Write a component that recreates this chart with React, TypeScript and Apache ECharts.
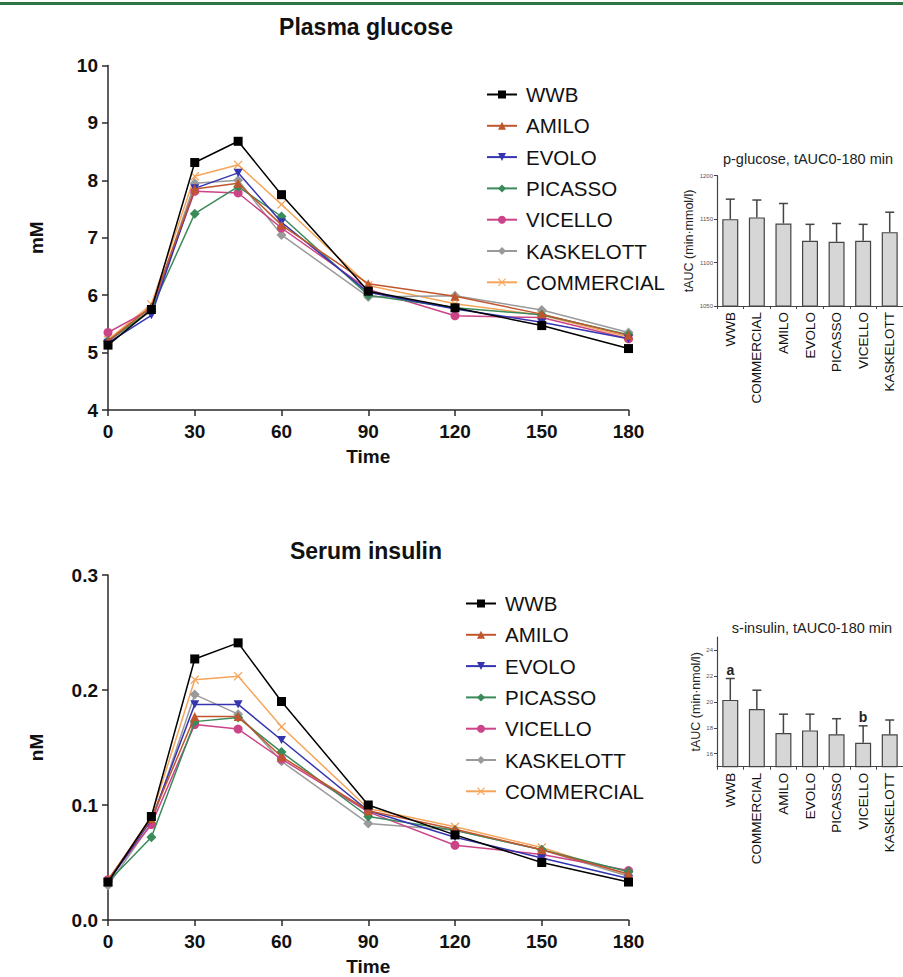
import React, { useEffect, useRef } from "react";
import * as echarts from "echarts";

const FONT = "Liberation Sans, Arial, Helvetica, sans-serif";

const times = [0, 15, 30, 45, 60, 90, 120, 150, 180];
const groups = ["WWB", "AMILO", "EVOLO", "PICASSO", "VICELLO", "KASKELOTT", "COMMERCIAL"];

// Plasma glucose (mM)
const glucoseWWB = [5.13, 5.75, 8.31, 8.68, 7.75, 6.07, 5.78, 5.47, 5.07];
const glucoseAMILO = [5.2, 5.8, 7.85, 7.95, 7.22, 6.2, 5.98, 5.67, 5.3];
const glucoseEVOLO = [5.17, 5.65, 7.86, 8.13, 7.27, 6.05, 5.76, 5.53, 5.24];
const glucosePICASSO = [5.2, 5.75, 7.42, 7.89, 7.37, 6.0, 5.78, 5.66, 5.31];
const glucoseVICELLO = [5.35, 5.76, 7.81, 7.78, 7.17, 6.1, 5.64, 5.61, 5.24];
const glucoseKASKELOTT = [5.2, 5.72, 7.95, 8.0, 7.05, 5.97, 5.99, 5.74, 5.35];
const glucoseCOMMERCIAL = [5.22, 5.84, 8.07, 8.27, 7.58, 6.17, 5.85, 5.65, 5.27];

// Serum insulin (nM)
const insulinWWB = [0.033, 0.09, 0.227, 0.241, 0.19, 0.1, 0.074, 0.05, 0.033];
const insulinAMILO = [0.035, 0.088, 0.177, 0.177, 0.142, 0.095, 0.079, 0.061, 0.04];
const insulinEVOLO = [0.033, 0.087, 0.1875, 0.1875, 0.1565, 0.095, 0.072, 0.054, 0.036];
const insulinPICASSO = [0.033, 0.072, 0.1725, 0.176, 0.146, 0.09, 0.078, 0.061, 0.042];
const insulinVICELLO = [0.035, 0.083, 0.17, 0.166, 0.14, 0.094, 0.065, 0.057, 0.043];
const insulinKASKELOTT = [0.03, 0.084, 0.196, 0.179, 0.138, 0.084, 0.078, 0.061, 0.038];
const insulinCOMMERCIAL = [0.034, 0.09, 0.209, 0.212, 0.168, 0.097, 0.081, 0.063, 0.039];

// tAUC bar charts
const barCategories = ["WWB", "COMMERCIAL", "AMILO", "EVOLO", "PICASSO", "VICELLO", "KASKELOTT"];
const glucoseAUC = [1150, 1152, 1145, 1125, 1124, 1125, 1135];
const glucoseAUCUpper = [1173, 1172, 1168, 1144, 1145, 1144, 1158];
const insulinAUC = [20.15, 19.45, 17.6, 17.8, 17.5, 16.85, 17.5];
const insulinAUCUpper = [21.8, 20.9, 19.05, 19.05, 18.7, 18.15, 18.6];
const insulinAnnotations = ["a", "", "", "", "", "b", ""];
const glucoseAnnotations = ["", "", "", "", "", "", ""];

const insulinTicks = [16, 18, 20, 22, 24];

const glucoseSeries = [glucoseWWB, glucoseAMILO, glucoseEVOLO, glucosePICASSO, glucoseVICELLO, glucoseKASKELOTT, glucoseCOMMERCIAL];
const insulinSeries = [insulinWWB, insulinAMILO, insulinEVOLO, insulinPICASSO, insulinVICELLO, insulinKASKELOTT, insulinCOMMERCIAL];

const styles: Record<string, { color: string; symbol: string; size: number }> = {
  WWB: { color: "#000000", symbol: "rect", size: 9 },
  AMILO: { color: "#c0562e", symbol: "triangle", size: 9 },
  EVOLO: { color: "#3535b0", symbol: "path://M0,0L10,0L5,9Z", size: 9 },
  PICASSO: { color: "#3a8a5a", symbol: "diamond", size: 10 },
  VICELLO: { color: "#cc4488", symbol: "circle", size: 9 },
  KASKELOTT: { color: "#9a9a9a", symbol: "diamond", size: 10 },
  COMMERCIAL: {
    color: "#f5a55a",
    symbol: "path://M0,1L1,0L5,4L9,0L10,1L6,5L10,9L9,10L5,6L1,10L0,9L4,5Z",
    size: 9,
  },
};

const axisColor = "#2a2a2a";

function lineXAxis(gridIndex: number) {
  return {
    gridIndex,
    type: "value",
    min: 0,
    max: 180,
    interval: 30,
    axisLine: { show: true, onZero: false, lineStyle: { color: axisColor, width: 1.5 } },
    axisTick: { show: true, length: 6, lineStyle: { color: axisColor, width: 1.5 } },
    axisLabel: { fontSize: 19, fontWeight: "bold", color: "#111", margin: 12, fontFamily: FONT },
    splitLine: { show: false },
    name: "Time",
    nameLocation: "middle",
    nameGap: 37,
    nameTextStyle: { fontSize: 19, fontWeight: "bold", color: "#111", fontFamily: FONT },
  };
}

function lineYAxis(gridIndex: number, min: number, max: number, interval: number, name: string, digits: number) {
  return {
    gridIndex,
    type: "value",
    min,
    max,
    interval,
    axisLine: { show: true, onZero: false, lineStyle: { color: axisColor, width: 1.5 } },
    axisTick: { show: true, length: 6, lineStyle: { color: axisColor, width: 1.5 } },
    axisLabel: {
      fontSize: 19,
      fontWeight: "bold",
      color: "#111",
      margin: 10,
      fontFamily: FONT,
      formatter: (v: number) => v.toFixed(digits),
    },
    splitLine: { show: false },
    name,
    nameLocation: "middle",
    nameRotate: 90,
    nameGap: 62,
    nameTextStyle: { fontSize: 19, fontWeight: "bold", color: "#111", fontFamily: FONT },
  };
}

function barXAxis(gridIndex: number) {
  return {
    gridIndex,
    type: "category",
    data: barCategories,
    axisLine: { show: true, lineStyle: { color: "#444", width: 1.2 } },
    axisTick: { show: true, length: 3, lineStyle: { color: "#444" } },
    axisLabel: { rotate: 90, interval: 0, fontSize: 13.5, color: "#111", margin: 6, fontFamily: FONT },
  };
}

function barYAxis(gridIndex: number, extra: any, name: string, nameGap: number) {
  return {
    gridIndex,
    type: "value",
    axisLine: { show: true, lineStyle: { color: "#444", width: 1.2 } },
    axisTick: { show: true, length: 3, lineStyle: { color: "#444" } },
    axisLabel: { fontSize: 6, color: "#555", margin: 4, fontFamily: FONT, formatter: (v: number) => String(v) },
    splitLine: { show: false },
    name,
    nameLocation: "middle",
    nameRotate: 90,
    nameGap,
    nameTextStyle: { fontSize: 12.5, color: "#222", fontFamily: FONT },
    ...extra,
  };
}

function errorSeries(xi: number, means: number[], uppers: number[], ann: string[]) {
  return {
    type: "custom",
    xAxisIndex: xi,
    yAxisIndex: xi,
    z: 5,
    encode: { x: 0, y: [1, 2] },
    data: means.map((m, i) => [i, m, uppers[i]]),
    renderItem: (params: any, api: any) => {
      const idx = api.value(0);
      const p0 = api.coord([idx, api.value(1)]);
      const p1 = api.coord([idx, api.value(2)]);
      const st = { stroke: "#444", lineWidth: 1.5 };
      const children: any[] = [
        { type: "line", shape: { x1: p0[0], y1: p0[1], x2: p1[0], y2: p1[1] }, style: st },
        { type: "line", shape: { x1: p1[0] - 4.5, y1: p1[1], x2: p1[0] + 4.5, y2: p1[1] }, style: st },
      ];
      const a = ann[params.dataIndex];
      if (a) {
        children.push({
          type: "text",
          style: {
            text: a,
            x: p1[0],
            y: p1[1] - 2,
            textAlign: "center",
            textVerticalAlign: "bottom",
            font: `bold 14px ${FONT}`,
            fill: "#222",
          },
        });
      }
      return { type: "group", children };
    },
  };
}

export default function App() {
  const ref = useRef<HTMLDivElement>(null);
  useEffect(() => {
    const chart = echarts.init(ref.current!, null, { renderer: "svg" });

    const lineSeries: any[] = [];
    [glucoseSeries, insulinSeries].forEach((set, gi) => {
      set.forEach((vals, si) => {
        const name = groups[si];
        const s = styles[name];
        lineSeries.push({
          type: "line",
          name,
          xAxisIndex: gi,
          yAxisIndex: gi,
          data: times.map((t, k) => [t, vals[k]]),
          symbol: s.symbol,
          symbolSize: s.size,
          symbolKeepAspect: true,
          showAllSymbol: true,
          lineStyle: { color: s.color, width: 1.5 },
          itemStyle: { color: s.color },
          z: 10 - si,
        });
      });
    });

    const legendCommon = {
      orient: "vertical",
      itemWidth: 30,
      itemHeight: 10,
      itemGap: 10.3,
      data: groups,
      textStyle: { fontSize: 20.5, color: "#111", fontFamily: FONT, lineHeight: 20, padding: [0, 0, 0, 4] },
      selectedMode: false,
    };

    const option: any = {
      animation: false,
      backgroundColor: "#ffffff",
      textStyle: { fontFamily: FONT },
      graphic: [
        { type: "rect", shape: { x: 0, y: 2, width: 903, height: 3 }, style: { fill: "#2f7443" } },
        {
          type: "text",
          style: { text: "Plasma glucose", x: 366, y: 27, textAlign: "center", textVerticalAlign: "middle", font: `bold 23px ${FONT}`, fill: "#111" },
        },
        {
          type: "text",
          style: { text: "Serum insulin", x: 366, y: 551, textAlign: "center", textVerticalAlign: "middle", font: `bold 23px ${FONT}`, fill: "#111" },
        },
        {
          type: "text",
          style: { text: "p-glucose, tAUC0-180 min", x: 808, y: 159, textAlign: "center", textVerticalAlign: "middle", font: `14.5px ${FONT}`, fill: "#222" },
        },
        {
          type: "text",
          style: { text: "s-insulin, tAUC0-180 min", x: 812, y: 628, textAlign: "center", textVerticalAlign: "middle", font: `14.5px ${FONT}`, fill: "#222" },
        },
      ],
      legend: [
        { ...legendCommon, left: 481, top: 79 },
        { ...legendCommon, left: 460, top: 588 },
      ],
      grid: [
        { left: 108, top: 65.5, width: 520.5, height: 344.5 },
        { left: 108, top: 575, width: 520.5, height: 346 },
        { left: 717, top: 175.7, width: 192.5, height: 130.3 },
        { left: 717, top: 637, width: 192.5, height: 129.7 },
      ],
      xAxis: [lineXAxis(0), lineXAxis(1), barXAxis(2), barXAxis(3)],
      yAxis: [
        lineYAxis(0, 4, 10, 1, "mM", 0),
        lineYAxis(1, 0, 0.3, 0.1, "nM", 1),
        barYAxis(2, { min: 1050, max: 1200, interval: 50 }, "tAUC (min·mmol/l)", 20),
        barYAxis(
          3,
          {
            min: 15,
            max: 25,
            axisTick: { show: true, length: 3, lineStyle: { color: "#444" }, customValues: insulinTicks },
            axisLabel: { fontSize: 6, color: "#555", margin: 4, fontFamily: FONT, customValues: insulinTicks },
          },
          "tAUC (min·nmol/l)",
          12
        ),
      ],
      series: [
        ...lineSeries,
        {
          type: "bar",
          name: "glucoseAUC",
          xAxisIndex: 2,
          yAxisIndex: 2,
          data: glucoseAUC,
          barWidth: 16,
          itemStyle: { color: "#d6d6d6", borderColor: "#444", borderWidth: 1.2 },
        },
        errorSeries(2, glucoseAUC, glucoseAUCUpper, glucoseAnnotations),
        {
          type: "bar",
          name: "insulinAUC",
          xAxisIndex: 3,
          yAxisIndex: 3,
          data: insulinAUC,
          barWidth: 16,
          itemStyle: { color: "#d6d6d6", borderColor: "#444", borderWidth: 1.2 },
        },
        errorSeries(3, insulinAUC, insulinAUCUpper, insulinAnnotations),
      ],
    };

    chart.setOption(option);
    return () => chart.dispose();
  }, []);
  return (
    <div
      ref={ref}
      style={{ position: "absolute", left: 0, top: 0, width: 903, height: 977, background: "#fff" }}
    />
  );
}
